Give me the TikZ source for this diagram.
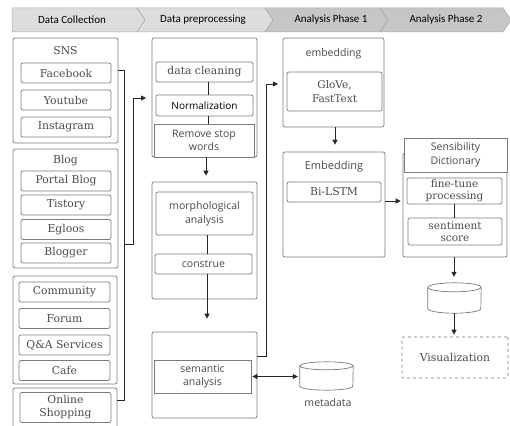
\documentclass[tikz,border=0pt]{standalone}
\usepackage{fontspec}
\setmainfont{DejaVu Serif}
\newfontfamily\hdrfont{Carlito}
\newfontfamily\sansf{Open Sans}
\usetikzlibrary{arrows.meta}
\definecolor{bord}{HTML}{7A7A7A}
\definecolor{txt}{HTML}{4A4A4A}
\definecolor{hdrA}{HTML}{DDDDDD}
\definecolor{hdrB}{HTML}{C6C6C6}
\definecolor{hdrline}{HTML}{A8A8A8}
\tikzset{
  grp/.style={draw=bord, line width=0.7pt, rounded corners=2pt, fill=white, inner sep=0pt},
  item/.style={draw=bord, line width=0.7pt, rounded corners=2pt, fill=white, inner sep=1pt, align=center,
     font=\fontsize{10.8}{12}\selectfont, text=txt},
  sitem/.style={draw=bord, line width=0.7pt, fill=white, inner sep=1pt, align=center,
     font=\sansf\fontsize{10.5}{13}\selectfont, text=txt},
  ritem/.style={item, font=\sansf\fontsize{10.5}{13}\selectfont},
  lbl/.style={font=\fontsize{10.8}{12}\selectfont, text=txt, inner sep=0pt},
  slbl/.style={font=\sansf\fontsize{10.5}{13}\selectfont, text=txt, inner sep=0pt, align=center},
  hdr/.style={font=\hdrfont\fontsize{11}{13}\selectfont, text=black, inner sep=0pt},
  conn/.style={draw=black!85, line width=0.8pt},
  arr/.style={conn, -{Triangle[length=5pt,width=5pt]}},
  darr/.style={conn, {Triangle[length=5pt,width=5pt]}-{Triangle[length=5pt,width=5pt]}},
  cylbase/.style={inner sep=0pt, minimum width=53pt},
  cyl/.style={draw=bord, line width=0.7pt, fill=white},
}
\begin{document}
\begin{tikzpicture}[x=1pt,y=-1pt]
\useasboundingbox (0,0) rectangle (510,425);
\fill[white] (0,0) rectangle (510,425);

% ---------- header chevrons ----------
\filldraw[fill=hdrA, draw=hdrline, line width=0.5pt] (12,8) -- (137,8) -- (145,20) -- (137,32) -- (12,32) -- cycle;
\filldraw[fill=hdrA, draw=hdrline, line width=0.5pt] (137,8) -- (265,8) -- (273,20) -- (265,32) -- (137,32) -- (145,20) -- cycle;
\filldraw[fill=hdrB, draw=hdrline, line width=0.5pt] (265,8) -- (380,8) -- (388,20) -- (380,32) -- (265,32) -- (273,20) -- cycle;
\filldraw[fill=hdrB, draw=hdrline, line width=0.5pt] (380,8) -- (503,8) -- (511,20) -- (503,32) -- (380,32) -- (388,20) -- cycle;
\node[hdr] (h1) at (72,20) {Data Collection};
\node[hdr] (h2) at (203,20) {Data preprocessing};
\node[hdr] (h3) at (331,20) {Analysis Phase 1};
\node[hdr] (h4) at (446,20) {Analysis Phase 2};

% ---------- Data collection ----------
\node[grp, minimum width=105pt, minimum height=105pt] (sns) at (65.5,90.5) {};
\node[lbl] (snsl) at (65.5,51) {SNS};
\node[item, minimum width=90pt, minimum height=20pt] (fb) at (66,73) {Facebook};
\node[item, minimum width=90pt, minimum height=20pt] (yt) at (66,100) {Youtube};
\node[item, minimum width=90pt, minimum height=20pt] (ig) at (66,127) {Instagram};

\node[grp, minimum width=105pt, minimum height=119pt] (blog) at (65.5,208.5) {};
\node[lbl] (blogl) at (65.5,161) {Blog};
\node[item, minimum width=90pt, minimum height=20pt] (pb) at (66,181) {Portal Blog};
\node[item, minimum width=90pt, minimum height=20pt] (ts) at (66,205) {Tistory};
\node[item, minimum width=90pt, minimum height=20pt] (eg) at (66,229.5) {Egloos};
\node[item, minimum width=90pt, minimum height=20pt] (bg) at (66,253) {Blogger};

\node[grp, minimum width=104pt, minimum height=108pt] (comm) at (65,330) {};
\node[item, minimum width=91pt, minimum height=20pt] (cm) at (64.5,292) {Community};
\node[item, minimum width=91pt, minimum height=20pt] (fo) at (64.5,318.5) {Forum};
\node[item, minimum width=91pt, minimum height=20pt] (qa) at (64.5,345) {Q\&A Services};
\node[item, minimum width=91pt, minimum height=20pt] (cf) at (64.5,370.5) {Cafe};

\node[grp, minimum width=104pt, minimum height=52pt] (onl) at (65,414) {};
\node[item, minimum width=91pt, minimum height=30pt, font=\fontsize{10.8}{13}\selectfont] (os) at (65.5,407.5) {Online\\Shopping};

% bracket + arrow into preprocessing
\coordinate (bt) at (124,70);
\coordinate (bb) at (124,400);
\coordinate (bm) at (124,244);
\coordinate (bj) at (133,244);
\coordinate (bu) at (133,98);
\draw[conn] (sns.east |- bt) -- (bt) -- (bb) -- (onl.east |- bb);
\draw[conn] (bm) -- (bj) -- (bu);
\coordinate (p1in) at (146,98);
\draw[arr] (bu) -- (p1in);

% ---------- Data preprocessing ----------
\node[grp, minimum width=105pt, minimum height=119pt] (prep) at (204.5,97.5) {};
\node[item, minimum width=97pt, minimum height=20pt] (dc) at (204.5,72) {data cleaning};
\node[ritem, minimum width=97pt, minimum height=21pt, text=black, font=\sansf\fontsize{10}{12}\selectfont] (nz) at (204.5,105.5) {Normalization};
\node[sitem, minimum width=100pt, minimum height=33pt] (rs) at (204,140.5) {Remove stop\\words};
\draw[conn] (dc.south -| 208,0) -- (nz.north -| 208,0);
\draw[conn] (nz.south -| 208,0) -- (rs.north -| 208,0);

\node[grp, minimum width=105pt, minimum height=117pt] (morph) at (204.5,240.5) {};
\node[ritem, minimum width=97pt, minimum height=43pt, font=\sansf\fontsize{10.5}{14}\selectfont] (ma) at (204.5,213.5) {morphological\\analysis};
\node[ritem, minimum width=97pt, minimum height=20pt] (cs) at (203.5,264) {construe};
\draw[conn] (ma.south -| 207,0) -- (cs.north -| 207,0);
\draw[arr, shorten >=6pt] (prep.south -| 206,0) -- (morph.north -| 206,0);

\node[grp, minimum width=105pt, minimum height=86pt] (sem) at (204.5,375) {};
\node[sitem, minimum width=97pt, minimum height=33pt, font=\sansf\fontsize{10.5}{13.5}\selectfont] (sa) at (202.5,376.5) {semantic\\analysis};
\draw[arr, shorten >=13pt] (cs.south -| 207,0) -- (sem.north -| 207,0);

% metadata cylinder
\node[cylbase, minimum height=28pt] (meta) at (326.5,376) {};
\draw[cyl] ([yshift=-4pt]meta.north west) -- ([yshift=4pt]meta.south west)
  arc[start angle=180,end angle=360,x radius=26.5pt,y radius=4pt]
  -- ([yshift=-4pt]meta.north east)
  arc[start angle=0,end angle=180,x radius=26.5pt,y radius=4pt] -- cycle;
\draw[cyl] ([yshift=-4pt]meta.north west) arc[start angle=180,end angle=360,x radius=26.5pt,y radius=4pt];
\node[slbl] (metal) at (328,403) {metadata};
\draw[darr, shorten <=1pt, shorten >=2pt] (sa.east) -- (meta.west |- sa.east);

% connector semantic -> embedding
\coordinate (s1) at (266,356);
\coordinate (s2) at (266,84);
\draw[conn] (sem.east |- s1) -- (s1) -- (s2);
\coordinate (e1in) at (278,84);
\draw[arr] (s2) -- (e1in);

% ---------- Analysis phase 1 ----------
\node[grp, minimum width=101pt, minimum height=89pt] (emb1) at (333.5,82.5) {};
\node[slbl] (emb1l) at (333.5,54) {embedding};
\node[item, minimum width=95pt, minimum height=39pt, font=\fontsize{10.5}{13.5}\selectfont] (gl) at (334.5,91.5) {GloVe,\\FastText};
\node[grp, minimum width=102pt, minimum height=105pt] (emb2) at (334,204.5) {};
\node[slbl, font=\sansf\fontsize{11}{13}\selectfont] (emb2l) at (334,167) {Embedding};
\node[item, minimum width=94pt, minimum height=20pt] (bl) at (334,192) {Bi-LSTM};
\draw[arr, shorten >=7pt] (emb1.south -| 335,0) -- (emb2.north -| 335,0);

% ---------- Analysis phase 2 ----------
\node[grp, minimum width=104pt, minimum height=104pt] (sens) at (455,205) {};
\node[sitem, minimum width=103pt, minimum height=34pt, font=\sansf\fontsize{10.5}{13.5}\selectfont] (sh) at (455.5,155) {Sensibility\\Dictionary};
\node[item, minimum width=95pt, minimum height=26pt, font=\fontsize{10.5}{12}\selectfont] (ft) at (454.5,191) {fine-tune\\processing};
\node[item, minimum width=94pt, minimum height=27pt, font=\fontsize{10.5}{12.5}\selectfont] (ss) at (455,231.5) {sentiment\\score};
\draw[conn] (ft.south -| 454,0) -- (ss.north -| 454,0);
\coordinate (bo) at (385,201);
\draw[arr, shorten >=2pt] (emb2.east |- bo) -- (sens.west |- bo);

\node[cylbase, minimum height=30pt] (db) at (454.5,298) {};
\draw[cyl] ([yshift=-4.5pt]db.north west) -- ([yshift=4.5pt]db.south west)
  arc[start angle=180,end angle=360,x radius=26.5pt,y radius=4.5pt]
  -- ([yshift=-4.5pt]db.north east)
  arc[start angle=0,end angle=180,x radius=26.5pt,y radius=4.5pt] -- cycle;
\draw[cyl] ([yshift=-4.5pt]db.north west) arc[start angle=180,end angle=360,x radius=26.5pt,y radius=4.5pt];
\draw[arr, shorten >=6pt] (sens.south -| 454,0) -- (db.north -| 454,0);

\node[draw=bord, dashed, line width=0.7pt, rounded corners=1pt, minimum width=106pt, minimum height=41pt,
      font=\fontsize{10.8}{12}\selectfont, text=txt] (vis) at (455,357.5) {Visualization};
\draw[arr, shorten >=2pt] (db.south -| 454,0) -- (vis.north -| 454,0);
\end{tikzpicture}
\end{document}
